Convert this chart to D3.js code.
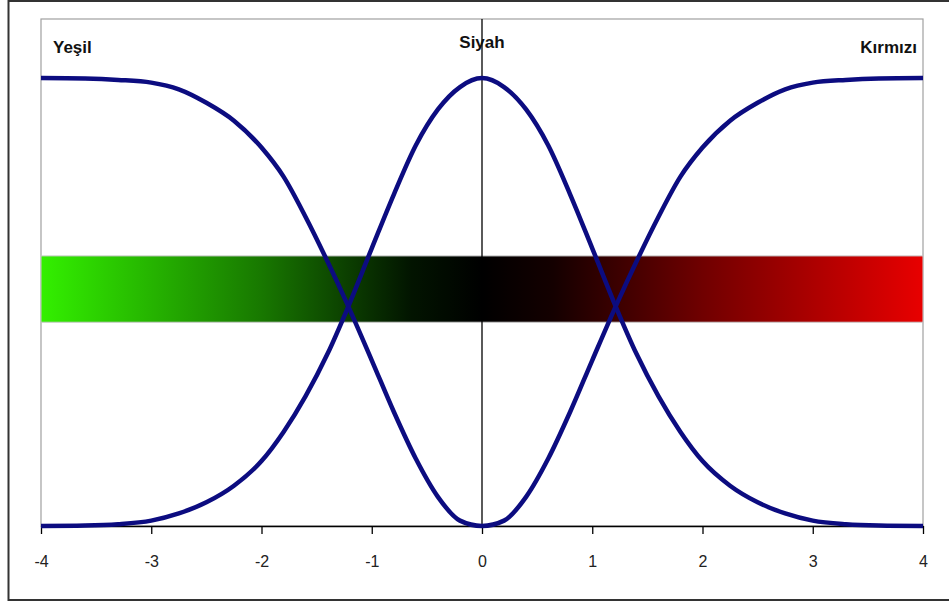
<!DOCTYPE html>
<html lang="tr">
<head>
  <meta charset="UTF-8">
  <title>Yeşil - Siyah - Kırmızı</title>
  <script src="https://d3js.org/d3.v7.min.js"></script>
</head>
<body style="margin:0;background:#fff">
  <svg width="949" height="605"></svg>

  <script>
    // Veriler
    const xValues = [-4, -3.6, -3.3, -3.0, -2.75, -2.5, -2.25, -2.0, -1.8, -1.6, -1.4, -1.23, -1.0, -0.8, -0.6, -0.4, -0.2, 0,
                     0.2, 0.4, 0.6, 0.8, 1.0, 1.23, 1.4, 1.6, 1.8, 2.0, 2.25, 2.5, 2.75, 3.0, 3.3, 3.6, 4];
    const bellValues = [0, 0.001, 0.004, 0.012, 0.028, 0.053, 0.09, 0.145, 0.21, 0.29, 0.385, 0.48, 0.62, 0.74, 0.85, 0.93, 0.98, 1,
                        0.98, 0.93, 0.85, 0.74, 0.62, 0.48, 0.385, 0.29, 0.21, 0.145, 0.09, 0.053, 0.028, 0.012, 0.004, 0.001, 0];
    const valleyValues = [1, 0.999, 0.996, 0.99, 0.975, 0.945, 0.905, 0.845, 0.78, 0.69, 0.59, 0.5, 0.37, 0.255, 0.15, 0.065, 0.012, 0,
                          0.012, 0.065, 0.15, 0.255, 0.37, 0.5, 0.59, 0.69, 0.78, 0.845, 0.905, 0.945, 0.975, 0.99, 0.996, 0.999, 1];
    const xTicks = [-4, -3, -2, -1, 0, 1, 2, 3, 4];
    const labels = [
      { text: "Yeşil", x: -4, y: 1.056, anchor: "start" },
      { text: "Siyah", x: 0, y: 1.067, anchor: "middle" },
      { text: "Kırmızı", x: 4, y: 1.056, anchor: "end" }
    ];
    const barRange = [0.455, 0.603];
    const gradientStops = [
      { offset: "0%", color: "#33f000" },
      { offset: "25%", color: "#187800" },
      { offset: "42%", color: "#021400" },
      { offset: "50%", color: "#000000" },
      { offset: "58%", color: "#140000" },
      { offset: "75%", color: "#700000" },
      { offset: "100%", color: "#e80000" }
    ];

    const svg = d3.select("svg");

    // Dış çerçeve
    svg.append("rect")
       .attr("x", 8.5).attr("y", 1)
       .attr("width", 960).attr("height", 599)
       .attr("fill", "none")
       .attr("stroke", "#333")
       .attr("stroke-width", 2);

    // Ölçekler
    const x = d3.scaleLinear().domain([-4, 4]).range([41, 923]);
    const y = d3.scaleLinear().domain([0, 1.132]).range([526, 19]);

    // Çizim alanı kenarlığı
    svg.append("rect")
       .attr("x", x(-4)).attr("y", y(1.132))
       .attr("width", x(4) - x(-4)).attr("height", y(0) - y(1.132))
       .attr("fill", "#fff")
       .attr("stroke", "#a0a0a0")
       .attr("stroke-width", 1.2);

    // Renk geçişi
    const grad = svg.append("defs").append("linearGradient")
       .attr("id", "renk")
       .attr("x1", "0%").attr("x2", "100%");
    grad.selectAll("stop")
       .data(gradientStops)
       .enter()
       .append("stop")
       .attr("offset", d => d.offset)
       .attr("stop-color", d => d.color);

    svg.append("rect")
       .attr("x", x(-4)).attr("y", y(barRange[1]))
       .attr("width", x(4) - x(-4)).attr("height", y(barRange[0]) - y(barRange[1]))
       .attr("fill", "url(#renk)")
       .attr("stroke", "#c8c8c8")
       .attr("stroke-width", 1);

    // Dikey eksen (x = 0)
    svg.append("line")
       .attr("x1", x(0)).attr("x2", x(0))
       .attr("y1", y(1.132)).attr("y2", y(0))
       .attr("stroke", "#000")
       .attr("stroke-width", 1.3);

    // X ekseni
    const xAxis = svg.append("g")
       .attr("transform", `translate(0,${y(0)})`)
       .call(d3.axisBottom(x).tickValues(xTicks).tickFormat(d => String(d))
         .tickSize(8).tickPadding(22).tickSizeOuter(0));
    xAxis.select(".domain").attr("stroke", "#000").attr("stroke-width", 1.5);
    xAxis.selectAll(".tick line").attr("stroke", "#000").attr("stroke-width", 1.3);
    xAxis.selectAll(".tick text")
       .attr("fill", "#222")
       .style("font-family", "'Liberation Sans', Arial, sans-serif")
       .style("font-size", "16px");

    // Eğriler
    const line = d3.line()
       .x((d, i) => x(xValues[i]))
       .y(d => y(d))
       .curve(d3.curveMonotoneX);

    [bellValues, valleyValues].forEach(values => {
      svg.append("path")
         .datum(values)
         .attr("d", line)
         .attr("fill", "none")
         .attr("stroke", "#0c0c80")
         .attr("stroke-width", 4.5)
         .attr("stroke-linejoin", "round");
    });

    // Etiketler
    svg.selectAll(".etiket")
       .data(labels)
       .enter()
       .append("text")
       .attr("class", "etiket")
       .attr("x", d => x(d.x) + (d.anchor === "start" ? 12 : d.anchor === "end" ? -6 : 0))
       .attr("y", d => y(d.y))
       .attr("text-anchor", d => d.anchor)
       .style("font-family", "'Liberation Sans', Arial, sans-serif")
       .style("font-weight", "bold")
       .style("font-size", "17px")
       .attr("fill", "#111")
       .text(d => d.text);
  </script>
</body>
</html>
